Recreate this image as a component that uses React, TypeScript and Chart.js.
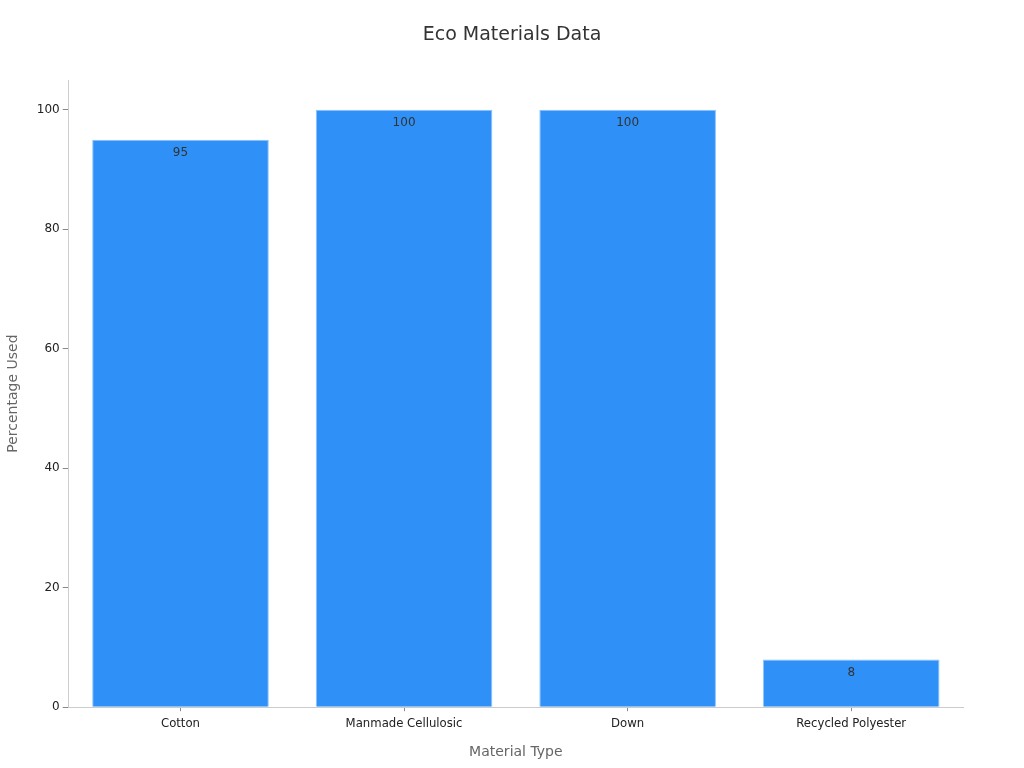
import { useEffect, useRef } from 'react'
import { Chart, registerables } from 'chart.js'

Chart.register(...registerables)

const CATEGORIES = ['Cotton', 'Manmade Cellulosic', 'Down', 'Recycled Polyester']
const PERCENT_USED = [95, 100, 100, 8]
const Y_TICKS = [0, 20, 40, 60, 80, 100]
const TITLE = 'Eco Materials Data'

const FONT_FAMILY = '"DejaVu Sans", sans-serif'

// value just inside the top of each bar, and the title centred on the full canvas
const decorations = {
  id: 'decorations',
  afterDatasetsDraw(chart: Chart) {
    const { ctx } = chart
    const meta = chart.getDatasetMeta(0)
    const data = chart.data.datasets[0].data as number[]
    ctx.save()
    ctx.font = `12px ${FONT_FAMILY}`
    ctx.fillStyle = '#333'
    ctx.textAlign = 'center'
    ctx.textBaseline = 'top'
    meta.data.forEach((bar, i) => {
      ctx.fillText(String(data[i]), bar.x, bar.y + 7)
    })
    ctx.font = `19px ${FONT_FAMILY}`
    ctx.textBaseline = 'middle'
    ctx.fillText(TITLE, chart.width / 2, 35)
    ctx.restore()
  },
}

export default function App() {
  const canvasRef = useRef<HTMLCanvasElement>(null)
  const chartRef = useRef<Chart | null>(null)

  useEffect(() => {
    document.body.style.margin = '0'
    const el = canvasRef.current
    if (!el) return
    try { chartRef.current?.destroy() } catch { /* noop */ }
    chartRef.current = new Chart(el, {
      type: 'bar',
      data: {
        labels: CATEGORIES,
        datasets: [
          {
            label: 'Percentage Used',
            data: PERCENT_USED,
            backgroundColor: '#2f91f8',
            borderColor: '#8cc3fb',
            borderWidth: 1,
            barPercentage: 0.79,
            categoryPercentage: 1,
          },
        ],
      },
      options: {
        animation: false,
        responsive: true,
        maintainAspectRatio: false,
        layout: { padding: { left: 5, right: 61, top: 80, bottom: 7 } },
        plugins: {
          legend: { display: false },
          tooltip: { enabled: false },
          title: { display: false },
        },
        scales: {
          x: {
            grid: { display: true, drawOnChartArea: false, offset: false, tickLength: 4, color: '#888' },
            border: { display: true, color: '#ccc' },
            ticks: { color: '#222', font: { family: FONT_FAMILY, size: 11.7 }, padding: 6 },
            title: {
              display: true,
              text: 'Material Type',
              color: '#666',
              font: { family: FONT_FAMILY, size: 14 },
              padding: { top: 7, bottom: 0 },
            },
          },
          y: {
            min: 0,
            max: 105,
            grid: { display: true, drawOnChartArea: false, tickLength: 6, color: '#888' },
            border: { display: true, color: '#ccc' },
            afterBuildTicks: (axis: any) => {
              axis.ticks = Y_TICKS.map((v) => ({ value: v }))
            },
            ticks: { color: '#222', font: { family: FONT_FAMILY, size: 12 }, padding: 3 },
            title: {
              display: true,
              text: 'Percentage Used',
              color: '#666',
              font: { family: FONT_FAMILY, size: 14 },
              padding: { top: 0, bottom: 12 },
            },
          },
        },
      },
      plugins: [decorations],
    })
    return () => { try { chartRef.current?.destroy() } catch { /* noop */ } }
  }, [])

  return (
    <div style={{ position: 'relative', width: 1024, height: 768 }}>
      <canvas ref={canvasRef} />
    </div>
  )
}
